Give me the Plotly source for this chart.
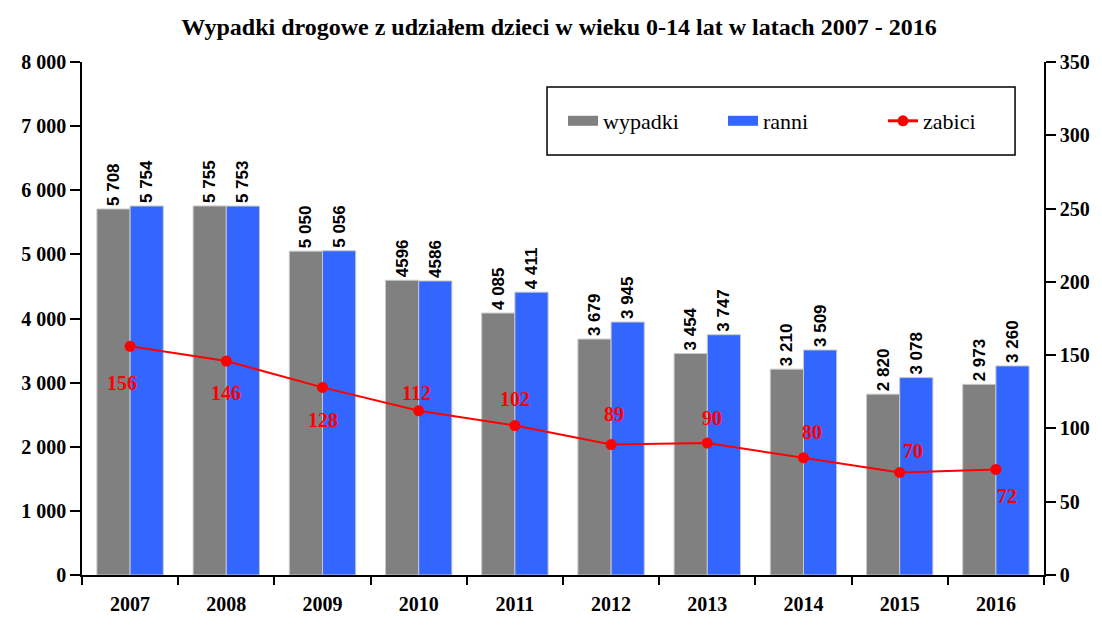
import plotly.graph_objects as go

years = ["2007", "2008", "2009", "2010", "2011", "2012", "2013", "2014", "2015", "2016"]
wypadki = [5708, 5755, 5050, 4596, 4085, 3679, 3454, 3210, 2820, 2973]
ranni = [5754, 5753, 5056, 4586, 4411, 3945, 3747, 3509, 3078, 3260]
zabici = [156, 146, 128, 112, 102, 89, 90, 80, 70, 72]
wypadki_labels = ["5 708", "5 755", "5 050", "4596", "4 085", "3 679", "3 454", "3 210", "2 820", "2 973"]
ranni_labels = ["5 754", "5 753", "5 056", "4586", "4 411", "3 945", "3 747", "3 509", "3 078", "3 260"]

# pixel offsets of the red labels from their markers
label_dx = [-8, 0, 0, -2, 0, 3, 5, 8, 13, 11]
label_dy = [-37, -32, -33, 18, 27, 31, 25, 26, 21, -27]

bar_font = dict(family="Liberation Sans", size=17, color="black", weight="bold")
serif = "Liberation Serif"
tick_font = dict(family=serif, size=20, color="black", weight="bold")

fig = go.Figure()

fig.add_trace(go.Bar(
    x=years, y=wypadki, name="wypadki", showlegend=False,
    marker=dict(color="#808080", line=dict(color="#c8c8c8", width=1)),
    text=wypadki_labels, textposition="outside", textangle=-90,
    textfont=bar_font, cliponaxis=False, constraintext="none"
))
fig.add_trace(go.Bar(
    x=years, y=ranni, name="ranni", showlegend=False,
    marker=dict(color="#3366ff", line=dict(color="#c8c8c8", width=1)),
    text=ranni_labels, textposition="outside", textangle=-90,
    textfont=bar_font, cliponaxis=False, constraintext="none"
))
fig.add_trace(go.Scatter(
    x=years, y=zabici, name="zabici", yaxis="y2", showlegend=False,
    mode="lines+markers",
    line=dict(color="red", width=2),
    marker=dict(color="red", size=11),
    cliponaxis=False
))

# red labels; x given as category index (numeric-looking years would be read as indices)
for i, (v, dx, dy) in enumerate(zip(zabici, label_dx, label_dy)):
    fig.add_annotation(x=i, y=v, xref="x", yref="y2", text=str(v), showarrow=False,
                       xshift=dx, yshift=dy,
                       font=dict(family=serif, size=20, color="red", weight="bold"))

# legend-only entries, wide rectangles like the original
fig.add_trace(go.Scatter(x=[years[0]], y=[None], name="wypadki", mode="lines",
                         line=dict(color="#808080", width=15)))
fig.add_trace(go.Scatter(x=[years[0]], y=[None], name="ranni", mode="lines",
                         line=dict(color="#3366ff", width=15)))
fig.add_trace(go.Scatter(x=[years[0]], y=[None], name="zabici", mode="lines+markers",
                         line=dict(color="red", width=3), marker=dict(color="red", size=11)))

# legend frame, taller than plotly's own border
fig.add_shape(type="rect", xref="paper", yref="paper",
              x0=0.4834, x1=0.9699, y0=0.8187, y1=0.9513,
              line=dict(color="black", width=1.5), fillcolor="white", layer="above")

fig.update_layout(
    width=1102, height=626,
    paper_bgcolor="white", plot_bgcolor="white",
    separators=", ",
    barmode="group", bargap=0.31, bargroupgap=0,
    margin=dict(l=74, r=66, t=54, b=59),
    title=dict(
        text="<b>Wypadki drogowe z udziałem dzieci w wieku 0-14 lat w latach 2007 - 2016</b>",
        x=0.5, xanchor="center", y=0.97, yanchor="middle",
        font=dict(family=serif, size=24, color="black")
    ),
    legend=dict(
        orientation="h", x=0.5, xanchor="left", y=0.885, yanchor="middle",
        borderwidth=0, bgcolor="rgba(0,0,0,0)",
        font=dict(family=serif, size=22, color="black"),
        entrywidth=115, tracegroupgap=0,
        traceorder="normal"
    ),
    xaxis=dict(
        type="category", range=[-0.5, len(years) - 0.5],
        showline=True, linecolor="black", linewidth=1.5,
        ticks="outside", tickson="boundaries", ticklen=8,
        tickcolor="black", tickwidth=1.5,
        ticklabelstandoff=10, tickangle=0, showgrid=False,
        tickfont=tick_font
    ),
    yaxis=dict(
        range=[0, 8000], dtick=1000, tickformat=",d",
        showline=True, linecolor="black", linewidth=1.5,
        ticks="outside", ticklen=10, tickcolor="black", tickwidth=1.5,
        showgrid=False, zeroline=False,
        tickfont=tick_font
    ),
    yaxis2=dict(
        range=[0, 350], dtick=50, overlaying="y", side="right",
        showline=True, linecolor="black", linewidth=1.5,
        ticks="outside", ticklen=10, tickcolor="black", tickwidth=1.5,
        showgrid=False, zeroline=False,
        tickfont=tick_font
    ),
)

fig.write_html("out.html")
